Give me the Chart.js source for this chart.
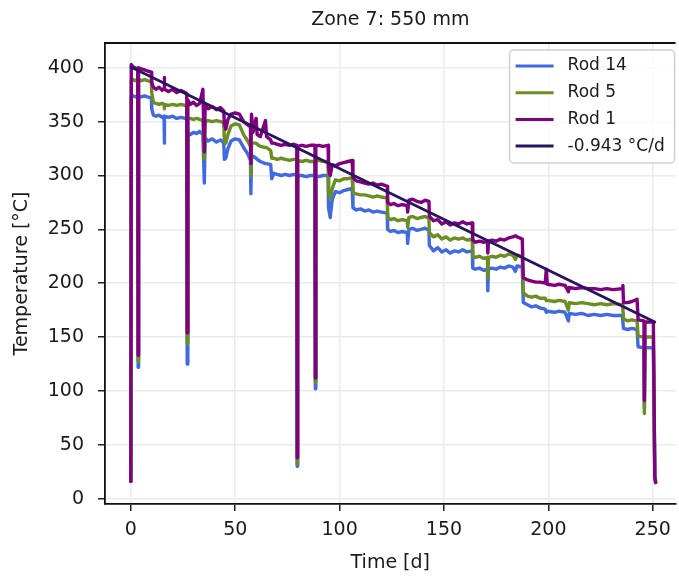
<!DOCTYPE html>
<html>
<head>
<meta charset="utf-8">
<script src="https://cdn.jsdelivr.net/npm/chart.js@4.4.0/dist/chart.umd.min.js"></script>
<style>
  html, body { margin: 0; padding: 0; background: #fff; }
</style>
</head>
<body>
<canvas id="chartZona" width="679" height="579"></canvas>
<script>
// Datos (Zona 7, 550 mm)
const days = [
  0.0, 0.2, 1.0, 2.0, 3.3, 3.5, 3.7, 5.0, 6.5, 8.0,
  9.8, 10.0, 10.8, 12.0, 13.5, 15.0, 15.9, 16.0, 16.2, 18.0,
  20.0, 22.0, 24.0, 26.0, 26.8, 27.0, 27.3, 28.5, 30.0, 31.5,
  33.0, 34.5, 35.2, 35.6, 37.0, 39.0, 41.0, 43.0, 44.5, 44.8,
  45.5, 46.5, 48.0, 50.0, 52.0, 54.0, 56.0, 57.3, 57.5, 57.8,
  58.5, 60.0, 60.5, 62.0, 64.5, 65.0, 67.0, 67.5, 68.5, 70.0,
  72.0, 74.0, 76.0, 78.0, 79.5, 79.7, 79.9, 82.0, 84.0, 86.0,
  88.2, 88.4, 88.6, 90.0, 92.0, 94.5, 94.7, 95.5, 96.5, 98.0,
  100.0, 102.0, 104.0, 106.0, 106.4, 108.0, 110.0, 112.0, 114.0, 116.0,
  118.0, 120.0, 122.8, 123.0, 124.5, 126.0, 128.0, 130.0, 132.4, 132.6,
  133.2, 135.0, 137.0, 139.0, 141.0, 142.8, 143.0, 145.0, 147.0, 149.0,
  151.0, 153.0, 155.0, 157.0, 159.0, 161.0, 163.5, 163.8, 165.0, 167.0,
  169.0, 170.8, 171.0, 171.3, 173.0, 175.0, 177.0, 179.0, 181.0, 183.0,
  184.2, 185.0, 187.5, 188.0, 190.0, 192.0, 194.0, 196.0, 198.5, 199.0,
  199.5, 203.0, 205.0, 208.0, 209.6, 210.0, 213.0, 216.0, 219.0, 222.0,
  225.0, 228.0, 231.0, 235.5, 235.7, 236.0, 238.0, 240.0, 242.5, 243.0,
  245.8, 246.0, 246.3, 248.0, 250.3, 251.0, 251.4
];

const rod14 = [
  16, 373, 374, 373, 374, 122, 374, 373, 374, 373,
  372, 362, 356, 355, 356, 354, 355, 330, 355, 354,
  355, 353, 354, 353, 352, 125, 340, 338, 340, 339,
  341, 338, 293, 335, 332, 334, 331, 333, 330, 315,
  316, 325, 332, 334, 333, 326, 320, 314, 283, 316,
  318, 316, 315, 313, 311, 311, 310, 297, 302, 301,
  300, 301, 300, 301, 300, 30, 300, 300, 299, 300,
  300, 102, 300, 299, 300, 300, 270, 261, 278, 285,
  284, 286, 287, 288, 270, 268, 269, 267, 268, 266,
  267, 266, 265, 250, 248, 249, 247, 248, 247, 237,
  250, 251, 249, 250, 251, 249, 235, 230, 233, 229,
  231, 228, 230, 229, 231, 229, 230, 214, 213, 214,
  212, 213, 193, 213, 214, 213, 215, 214, 216, 215,
  211, 216, 215, 182, 180, 178, 179, 177, 176, 173,
  174, 173, 174, 173, 165, 172, 171, 172, 170, 171,
  170, 171, 170, 170, 164, 158, 157, 158, 157, 141,
  140, 84, 140, 140, 140, 20, 15
];

const rod5 = [
  16, 388, 389, 388, 389, 128, 389, 388, 389, 388,
  387, 377, 368, 367, 366, 367, 366, 362, 366, 365,
  366, 365, 366, 365, 364, 144, 352, 353, 352, 353,
  352, 351, 315, 350, 351, 350, 351, 350, 349, 332,
  330, 338, 346, 348, 347, 338, 332, 327, 300, 330,
  330, 330, 329, 327, 326, 326, 323, 316, 316, 315,
  316, 315, 314, 315, 315, 32, 314, 313, 314, 313,
  313, 108, 313, 314, 313, 313, 286, 279, 288, 296,
  295, 297, 297, 298, 284, 283, 282, 282, 281, 280,
  281, 280, 279, 261, 259, 260, 258, 259, 258, 252,
  261, 262, 260, 261, 262, 260, 247, 243, 245, 241,
  243, 240, 242, 241, 242, 240, 241, 225, 224, 225,
  223, 224, 205, 224, 225, 224, 226, 225, 227, 226,
  222, 226, 225, 191, 188, 187, 188, 186, 186, 184,
  184, 183, 184, 183, 175, 182, 181, 182, 181, 180,
  181, 180, 181, 180, 176, 167, 165, 166, 165, 151,
  150, 79, 150, 150, 150, 20, 15
];

const rod1 = [
  16, 403, 401, 400, 399, 133, 400, 399, 398, 397,
  396, 386, 382, 380, 382, 379, 381, 391, 380, 378,
  380, 377, 379, 377, 376, 154, 370, 366, 368, 365,
  367, 380, 322, 365, 362, 364, 361, 363, 360, 348,
  343, 352, 357, 358, 357, 350, 347, 345, 311, 357,
  340, 353, 338, 336, 351, 336, 333, 330, 330, 329,
  328, 329, 328, 329, 328, 38, 327, 328, 327, 328,
  328, 112, 327, 328, 327, 328, 307, 300, 310, 309,
  311, 312, 313, 314, 298, 295, 294, 293, 292, 293,
  291, 292, 290, 275, 273, 274, 272, 273, 272, 266,
  277, 278, 276, 275, 277, 276, 262, 258, 259, 255,
  257, 254, 256, 255, 257, 255, 256, 240, 238, 239,
  238, 239, 228, 239, 240, 239, 241, 240, 242, 243,
  244, 243, 241, 205, 203, 202, 201, 201, 200, 213,
  199, 198, 199, 198, 192, 196, 195, 196, 195, 195,
  194, 195, 194, 195, 198, 182, 182, 183, 185, 166,
  165, 91, 164, 164, 164, 20, 15
];

// Ajuste lineal mostrado en la leyenda
const trendDays = [0, 251];
const trendTemps = [400.7, 164.0];

const xTicks = [0, 50, 100, 150, 200, 250];
const yTicks = [0, 50, 100, 150, 200, 250, 300, 350, 400];

const FUENTE = "'DejaVu Sans', sans-serif";
const TEXTO = '#1a1a1a';

function puntos(xs, ys) {
  return xs.map((x, i) => ({ x: x, y: ys[i] }));
}

/**
 * Leyenda dentro del area del grafico (arriba a la derecha)
 */
const leyendaPlugin = {
  id: 'leyenda',
  afterDatasetsDraw(chart) {
    const ctx = chart.ctx;
    const area = chart.chartArea;
    const sets = chart.data.datasets;
    const w = 165, h = 113;
    const x = area.right - w - 1;
    const y = area.top + 7;

    ctx.save();
    ctx.beginPath();
    ctx.roundRect(x, y, w, h, 4);
    ctx.fillStyle = 'rgba(255,255,255,0.85)';
    ctx.fill();
    ctx.strokeStyle = '#d0d0d0';
    ctx.lineWidth = 1.5;
    ctx.stroke();

    ctx.font = '17px ' + FUENTE;
    ctx.textBaseline = 'middle';
    ctx.fillStyle = TEXTO;
    sets.forEach((ds, i) => {
      const fy = y + 16 + i * 26.7;
      ctx.beginPath();
      ctx.moveTo(x + 6, fy);
      ctx.lineTo(x + 44, fy);
      ctx.strokeStyle = ds.borderColor;
      ctx.lineWidth = 3;
      ctx.stroke();
      ctx.fillText(ds.label, x + 58, fy);
    });
    ctx.restore();
  }
};

// Linea superior del marco
const marcoPlugin = {
  id: 'marco',
  beforeDatasetsDraw(chart) {
    const ctx = chart.ctx;
    const a = chart.chartArea;
    ctx.save();
    ctx.beginPath();
    ctx.moveTo(a.left, a.top);
    ctx.lineTo(a.right, a.top);
    ctx.strokeStyle = '#111';
    ctx.lineWidth = 1.8;
    ctx.stroke();
    ctx.restore();
  }
};

const lineaBase = {
  pointRadius: 0,
  borderWidth: 3.4,
  tension: 0,
  fill: false,
  borderJoinStyle: 'round',
  borderCapStyle: 'round'
};

const ctx = document.getElementById('chartZona');

new Chart(ctx, {
  type: 'line',
  data: {
    datasets: [
      { ...lineaBase, label: 'Rod 14', data: puntos(days, rod14), borderColor: '#4169e1', order: 4 },
      { ...lineaBase, label: 'Rod 5', data: puntos(days, rod5), borderColor: '#6b8e23', order: 3 },
      { ...lineaBase, label: 'Rod 1', data: puntos(days, rod1), borderColor: '#800080', order: 2 },
      { ...lineaBase, label: '-0.943 °C/d', data: puntos(trendDays, trendTemps), borderColor: '#2a1460', borderWidth: 2.8, order: 1 }
    ]
  },
  options: {
    responsive: false,
    animation: false,
    layout: { padding: 0 },
    plugins: {
      legend: { display: false },
      tooltip: { enabled: false },
      title: {
        display: true,
        text: 'Zone 7: 550 mm',
        fullSize: false,
        color: TEXTO,
        font: { family: FUENTE, size: 19, weight: 'normal', lineHeight: 1.2 },
        padding: { top: 9, bottom: 11.2 }
      }
    },
    scales: {
      x: {
        type: 'linear',
        min: -12.38,
        max: 260.95,
        afterBuildTicks(scale) {
          scale.ticks = xTicks.map(v => ({ value: v }));
        },
        afterFit(scale) {
          scale.height = 75;
        },
        grid: {
          color: '#ebebeb',
          lineWidth: 1.5,
          tickColor: '#222',
          tickWidth: 1.5,
          tickLength: 7
        },
        border: { display: true, color: '#111', width: 1.8 },
        ticks: {
          color: TEXTO,
          padding: 8,
          maxRotation: 0,
          font: { family: FUENTE, size: 19 }
        },
        title: {
          display: true,
          text: 'Time [d]',
          color: TEXTO,
          font: { family: FUENTE, size: 19, lineHeight: 1.2 },
          padding: { top: 0, bottom: 4.5 }
        }
      },
      y: {
        type: 'linear',
        min: -5,
        max: 423,
        afterBuildTicks(scale) {
          scale.ticks = yTicks.map(v => ({ value: v }));
        },
        afterFit(scale) {
          scale.width = 105;
        },
        grid: {
          color: '#ebebeb',
          lineWidth: 1.5,
          tickColor: '#222',
          tickWidth: 1.5,
          tickLength: 7
        },
        border: { display: true, color: '#111', width: 1.8 },
        ticks: {
          color: TEXTO,
          padding: 14,
          font: { family: FUENTE, size: 19 }
        },
        title: {
          display: true,
          text: 'Temperature [°C]',
          color: TEXTO,
          font: { family: FUENTE, size: 19, lineHeight: 1.2 },
          padding: { top: 10.6, bottom: 0 }
        }
      }
    }
  },
  plugins: [marcoPlugin, leyendaPlugin]
});
</script>
</body>
</html>
